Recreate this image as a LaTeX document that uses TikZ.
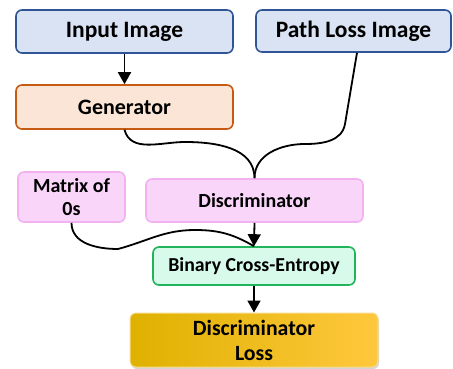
\documentclass[tikz,border=0pt]{standalone}
\usepackage{fontspec}
\setmainfont{Carlito}
\usetikzlibrary{arrows.meta,shadows}
\definecolor{blueFill}{HTML}{DAE3F3}
\definecolor{blueLine}{HTML}{2F5597}
\definecolor{genFill}{HTML}{FBE5D6}
\definecolor{genLine}{HTML}{C55A11}
\definecolor{pinkFill}{HTML}{F9D5F9}
\definecolor{pinkLine}{HTML}{F2B2F0}
\definecolor{mintFill}{HTML}{D7FAEB}
\definecolor{mintLine}{HTML}{22B45A}
\definecolor{goldL}{HTML}{DFB100}
\definecolor{goldR}{HTML}{FFC83D}
\definecolor{goldLine}{HTML}{F7DC8E}
\tikzset{
  box/.style={rounded corners=6pt, line width=1.6pt, align=center,
    font=\bfseries, inner sep=0pt},
  inbox/.style={box, fill=blueFill, draw=blueLine, font=\fontsize{23.5}{27}\selectfont\bfseries},
  genbox/.style={box, fill=genFill, draw=genLine, font=\fontsize{22}{26}\selectfont\bfseries},
  pinkbox/.style={box, fill=pinkFill, draw=pinkLine, font=\fontsize{20}{23}\selectfont\bfseries},
  bcebox/.style={box, fill=mintFill, draw=mintLine, font=\fontsize{19.8}{23}\selectfont\bfseries},
  lossbox/.style={box, left color=goldL, right color=goldR, draw=goldLine, line width=1pt,
    drop shadow={opacity=0.35, shadow xshift=1pt, shadow yshift=-2pt},
    font=\fontsize{21.8}{25}\selectfont\bfseries},
  link/.style={line width=1.8pt, black},
  arr/.style={link, -{Triangle[length=12pt,width=13pt]}}
}
\begin{document}
\begin{tikzpicture}[x=1pt,y=-1pt]
  \useasboundingbox (0,0) rectangle (453,369);
  % top row
  \node[inbox, minimum width=217pt, minimum height=43pt] (inp) at (124.5,31.5) {Input Image};
  \node[inbox, minimum width=195pt, minimum height=42pt] (pl) at (353.5,31) {Path Loss Image};
  % generator
  \node[genbox, minimum width=217pt, minimum height=44pt] (gen) at (124.5,107) {Generator};
  % discriminator stage
  \node[pinkbox, minimum width=107pt, minimum height=50pt] (mat) at (71.5,197) {Matrix of\\0s};
  \node[pinkbox, minimum width=217pt, minimum height=43pt] (dis) at (254.5,200.5) {Discriminator};
  \node[bcebox, minimum width=202pt, minimum height=38pt] (bce) at (254,266) {Binary Cross-Entropy};
  \node[lossbox, minimum width=248pt, minimum height=54pt] (loss) at (254,340) {Discriminator\\Loss};
  % merge point on top of the discriminator
  \coordinate (join) at (dis.north);
  \coordinate (plbend) at (345,124);
  % connectors
  \draw[arr] (inp.south) -- (gen.south |- gen.north);
  \draw[link] (gen.south) to[out=-75,in=180] (185,142) to[out=0,in=90] (join);
  \draw[link] (pl.south -| 357,0) -- (plbend) to[out=-100,in=0] (305,144) to[out=180,in=90] (join);
  \draw[arr] (dis.south) -- (bce.north);
  \draw[link] (mat.south) to[out=-90,in=180] (118,249) to[out=15,in=180] (195,230) to[out=0,in=150] (bce.north);
  \draw[arr] (bce.south) -- (loss.north);
\end{tikzpicture}
\end{document}
